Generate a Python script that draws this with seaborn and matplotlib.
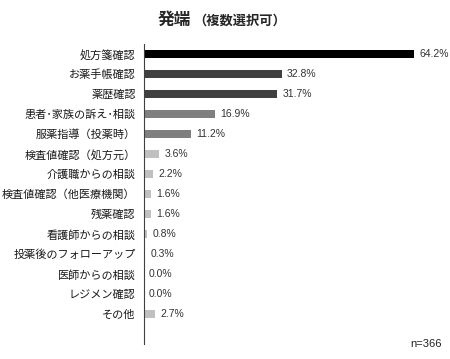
import matplotlib
matplotlib.use("Agg")
import matplotlib.pyplot as plt
import seaborn as sns
import pandas as pd

categories = ["処方箋確認", "お薬手帳確認", "薬歴確認", "患者･家族の訴え･相談", "服薬指導（投薬時）",
              "検査値確認（処方元）", "介護職からの相談", "検査値確認（他医療機関）", "残薬確認",
              "看護師からの相談", "投薬後のフォローアップ", "医師からの相談", "レジメン確認", "その他"]
values = [64.2, 32.8, 31.7, 16.9, 11.2, 3.6, 2.2, 1.6, 1.6, 0.8, 0.3, 0.0, 0.0, 2.7]
value_labels = ["64.2%", "32.8%", "31.7%", "16.9%", "11.2%", "3.6%", "2.2%", "1.6%", "1.6%",
                "0.8%", "0.3%", "0.0%", "0.0%", "2.7%"]
colors = ["#000000", "#404040", "#404040", "#7f7f7f", "#7f7f7f"] + ["#c0c0c0"] * 9
title_main = "発端"
title_sub = "（複数選択可）"
note = "n=366"

sns.set_theme(style="white")
plt.rcParams['font.family'] = ['Noto Sans CJK JP', 'DejaVu Sans']

df = pd.DataFrame({"cat": categories, "val": values})
fig = plt.figure(figsize=(4.5, 3.59), dpi=100)
ax = fig.add_axes([144/450, 15/359, 300/450, 300/359])
sns.barplot(data=df, x="val", y="cat", hue="cat", palette=colors, legend=False,
            orient="h", width=0.42, ax=ax, edgecolor="none")
ax.set_xlim(0, 300 / (270 / 64.2))
ax.set_ylim(14.5, -0.5)
ax.set_xlabel("")
ax.set_ylabel("")
ax.set_xticks([])
for s in ["top", "right", "bottom"]:
    ax.spines[s].set_visible(False)
ax.spines["left"].set_color("#404040")
ax.spines["left"].set_linewidth(0.8)
ax.tick_params(axis="y", length=0, pad=6, labelsize=8, labelcolor="#1a1a1a")
for i, (v, lab) in enumerate(zip(values, value_labels)):
    ax.text(v + 1.2, i, lab, va="center", ha="left", fontsize=7.5, color="#333333",
            family=["Liberation Sans", "DejaVu Sans"])

fig.text(158/450, 1 - 20/359, title_main, fontsize=12, fontweight="bold", va="center", ha="left")
fig.text(193/450, 1 - 21/359, title_sub, fontsize=9.5, fontweight="bold", va="center", ha="left")
fig.text(442/450, 1 - 344/359, note, fontsize=8, ha="right", va="center", color="#222222",
         family=["Liberation Sans", "DejaVu Sans"])

fig.savefig("out.png", dpi=100)
